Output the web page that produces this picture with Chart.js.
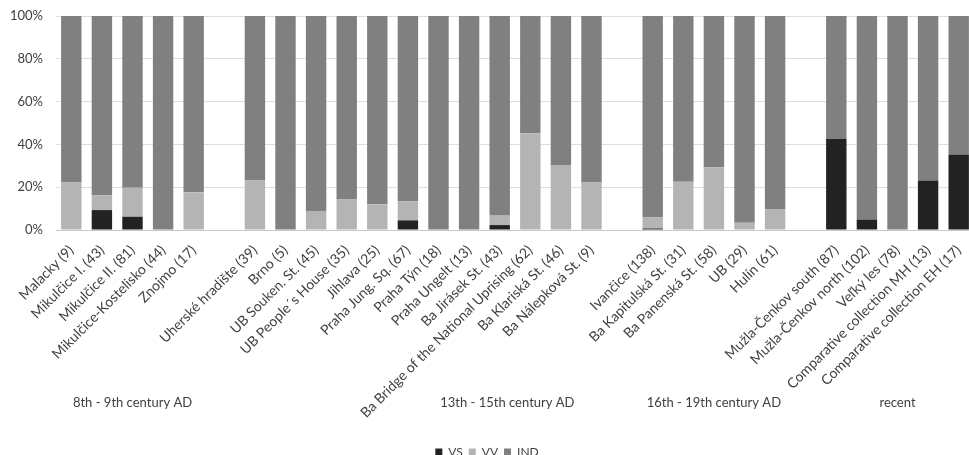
<!DOCTYPE html>
<html>
<head>
<meta charset="utf-8">
<script src="https://cdn.jsdelivr.net/npm/chart.js@4/dist/chart.umd.min.js"></script>
<style>
  html, body { margin: 0; padding: 0; background: #fff; overflow: hidden; }
  #wrap { position: absolute; left: 0; top: 0; width: 990px; height: 468px; }
</style>
</head>
<body>
<div id="wrap"><canvas id="c" width="990" height="468"></canvas></div>
<script>
// Sites (sample size in brackets); empty strings separate the period groups
const categories = [
  'Malacky (9)', 'Mikulčice I. (43)', 'Mikulčice II. (81)', 'Mikulčice-Kostelisko (44)', 'Znojmo (17)',
  '',
  'Uherské hradište (39)', 'Brno (5)', 'UB Souken. St. (45)', 'UB People´s House (35)', 'Jihlava (25)',
  'Praha Jung. Sq. (67)', 'Praha Týn (18)', 'Praha Ungelt (13)', 'Ba Jirásek St. (43)',
  'Ba Bridge of the National Uprising (62)', 'Ba Klariská St. (46)', 'Ba Nálepková St. (9)',
  '',
  'Ivančice (138)', 'Ba Kapitulská St. (31)', 'Ba Panenská St. (58)', 'UB (29)', 'Hulín (61)',
  '',
  'Mužla-Čenkov south (87)', 'Mužla-Čenkov north (102)', 'Veľký les (78)',
  'Comparative collection MH (13)', 'Comparative collection EH (17)'
];

// Share of each class per site, in percent
const vs  = [0, 9.3, 6.2, 0, 0, null, 0, 0, 0, 0, 0, 4.5, 0, 0, 2.3, 0, 0, 0, null, 0.7, 0, 0, 0, 0, null, 42.5, 4.9, 0, 23.1, 35.3];
const vv  = [22.2, 7.0, 13.6, 0, 17.6, null, 23.1, 0, 8.9, 14.3, 12.0, 9.0, 0, 0, 4.7, 45.2, 30.4, 22.2, null, 5.1, 22.6, 29.3, 3.4, 9.8, null, 0, 0, 0, 0, 0];
const ind = [77.8, 83.7, 80.2, 100, 82.4, null, 76.9, 100, 91.1, 85.7, 88.0, 86.5, 100, 100, 93.0, 54.8, 69.6, 77.8, null, 94.2, 77.4, 70.7, 96.6, 90.2, null, 57.5, 95.1, 100, 76.9, 64.7];

const yTicks = [0, 20, 40, 60, 80, 100];

// Period captions and the category position each one sits under
const groupNames = ['8th - 9th century AD', '13th - 15th century AD', '16th - 19th century AD', 'recent'];
const groupAt = [2, 14.25, 21, 27];

const FONT = 'Lato, "Open Sans", sans-serif';
const TEXT = '#404040';

const groupCaptions = {
  id: 'groupCaptions',
  afterDraw(chart) {
    const ctx = chart.ctx;
    const x = chart.scales.x;
    ctx.save();
    ctx.font = '13px ' + FONT;
    ctx.fillStyle = TEXT;
    ctx.textAlign = 'center';
    ctx.textBaseline = 'middle';
    groupNames.forEach((name, i) => {
      ctx.fillText(name, x.getPixelForValue(groupAt[i]), 403);
    });
    ctx.restore();
  }
};

new Chart(document.getElementById('c'), {
  type: 'bar',
  data: {
    labels: categories,
    datasets: [
      { label: 'VS',  data: vs,  backgroundColor: '#222222' },
      { label: 'VV',  data: vv,  backgroundColor: '#b4b4b4' },
      { label: 'IND', data: ind, backgroundColor: '#808080' }
    ]
  },
  options: {
    responsive: false,
    animation: false,
    devicePixelRatio: 1,
    layout: { padding: { top: 16, right: 16, left: 0, bottom: 0 } },
    datasets: { bar: { categoryPercentage: 1, barPercentage: 0.667 } },
    scales: {
      x: {
        stacked: true,
        grid: { display: false },
        border: { color: '#c8c8c8' },
        ticks: {
          autoSkip: false,
          minRotation: 45,
          maxRotation: 45,
          padding: 4,
          color: TEXT,
          font: { family: FONT, size: 14 }
        },
        afterFit(scale) { scale.height = 210; }
      },
      y: {
        stacked: true,
        min: 0,
        max: 100,
        afterBuildTicks(scale) { scale.ticks = yTicks.map(v => ({ value: v })); },
        grid: { color: '#dedede', drawTicks: true, tickLength: 13, tickColor: 'rgba(0,0,0,0)' },
        border: { display: false },
        ticks: {
          padding: 0,
          color: TEXT,
          font: { family: FONT, size: 13 },
          callback: v => v + '%'
        },
        afterFit(scale) { scale.width = 56; }
      }
    },
    plugins: {
      legend: {
        position: 'bottom',
        labels: {
          boxWidth: 7,
          boxHeight: 7,
          padding: 6,
          color: TEXT,
          font: { family: FONT, size: 12 }
        }
      },
      tooltip: { enabled: false }
    }
  },
  plugins: [groupCaptions]
});
</script>
</body>
</html>
